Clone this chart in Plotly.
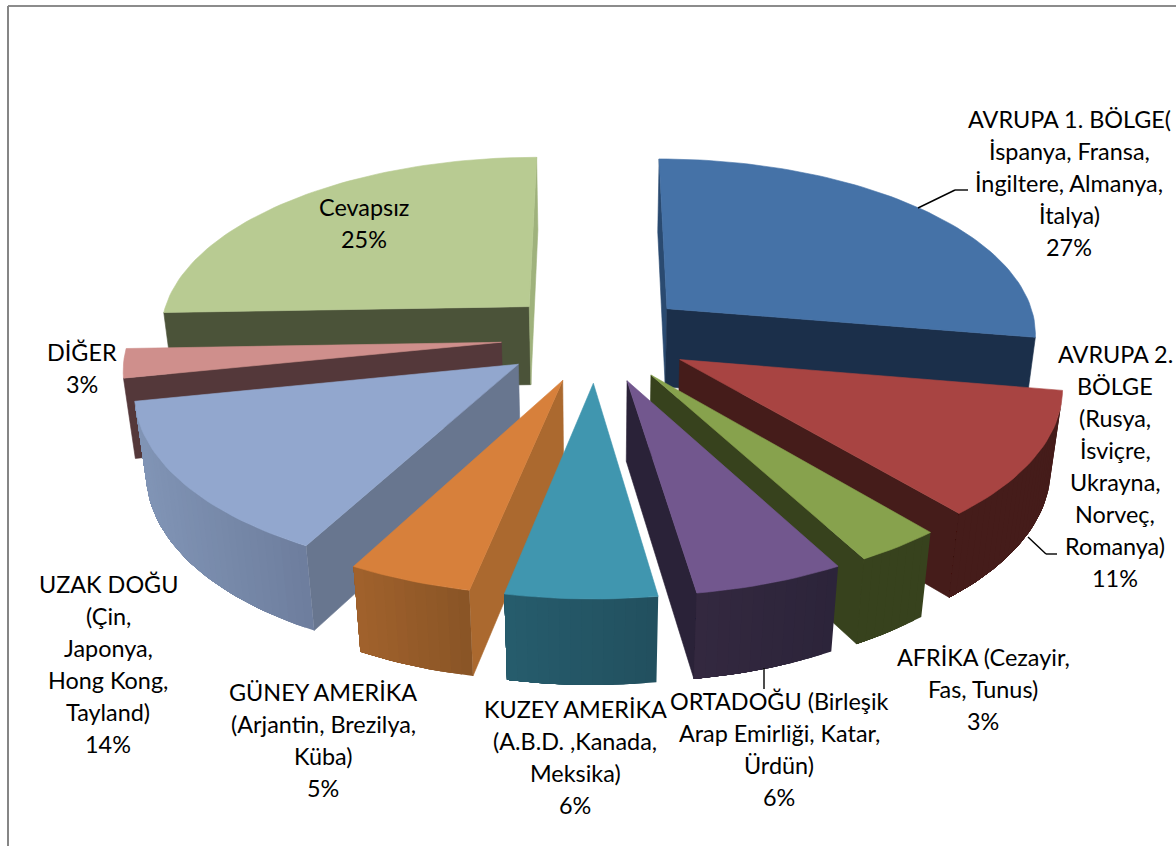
import math
import plotly.graph_objects as go

# ---- data ----
categories = ["AVRUPA 1. BÖLGE", "AVRUPA 2. BÖLGE", "AFRİKA", "ORTADOĞU", "KUZEY AMERİKA",
              "GÜNEY AMERİKA", "UZAK DOĞU", "DİĞER", "Cevapsız"]
values = [27.66, 11.2, 3.22, 5.56, 5.58, 4.61, 14.0, 2.61, 25.56]

# ---- styles: top, start wall, end wall, outer wall (left / right on screen) ----
top_colors = ["#4572A7", "#A84442", "#87A24D", "#72578E", "#4096AF", "#D7803B", "#92A7CE", "#CF8F8C", "#B8CB92"]
start_wall = ["#2A4A70", "#451C1A", "#37421D", "#2A2238", "#265C6C", "#AB692F", "#68768F", "#54383A", "#4B5339"]
end_wall   = ["#1B2F4A", "#451C1A", "#37421D", "#2A2238", "#265C6C", "#AB692F", "#68768F", "#54383A", "#9FB27C"]
outer_left = ["#1B2F4A", "#451C1A", "#37421D", "#33283F", "#265C6C", "#A0612C", "#8195B6", "#54383A", "#4B5339"]
outer_right= ["#1B2F4A", "#451C1A", "#37421D", "#2C243A", "#22505F", "#8A5526", "#6E7E9E", "#54383A", "#4B5339"]

label_lines = [
    ["AVRUPA 1. BÖLGE(", "İspanya, Fransa,", "İngiltere, Almanya,", "İtalya)", "27%"],
    ["AVRUPA 2.", "BÖLGE", "(Rusya,", "İsviçre,", "Ukrayna,", "Norveç,", "Romanya)", "11%"],
    ["AFRİKA (Cezayir,", "Fas, Tunus)", "3%"],
    ["ORTADOĞU (Birleşik", "Arap Emirliği, Katar,", "Ürdün)", "6%"],
    ["KUZEY AMERİKA", "(A.B.D. ,Kanada,", "Meksika)", "6%"],
    ["GÜNEY AMERİKA", "(Arjantin, Brezilya,", "Küba)", "5%"],
    ["UZAK DOĞU", "(Çin,", "Japonya,", "Hong Kong,", "Tayland)", "14%"],
    ["DİĞER", "3%"],
    ["Cevapsız", "25%"],
]
label_x = [1069, 1115, 983, 779, 575, 323, 108, 82, 364]
label_y = [119, 354, 657, 701, 709, 692, 584, 352, 207]
label_pitch = 32

# ---- projection parameters ----
CX, CY = 596, 337
R, RV, H = 372, 175.5, 81
K, M = 0.127, 0.025
EXPLODE = 0.255
FONT = "Lato"
FONT_SIZE = 23.4


def project(x, y, z):
    s = 1 / (1 + K * y - M * z)
    return CX + R * x * s, CY - (RV * y + H * z) * s


def hex_mix(a, b, t):
    ca = [int(a[i:i + 2], 16) for i in (1, 3, 5)]
    cb = [int(b[i:i + 2], 16) for i in (1, 3, 5)]
    return "#%02x%02x%02x" % tuple(round(p + (q - p) * t) for p, q in zip(ca, cb))


def area(poly):
    return sum(poly[i][0] * poly[(i + 1) % len(poly)][1] - poly[(i + 1) % len(poly)][0] * poly[i][1]
               for i in range(len(poly))) / 2


fig = go.Figure()


def add_poly(poly, color, width=0.6):
    fig.add_trace(go.Scatter(
        x=[p[0] for p in poly] + [poly[0][0]], y=[p[1] for p in poly] + [poly[0][1]],
        mode="lines", fill="toself", fillcolor=color,
        line=dict(color=color, width=width), hoverinfo="skip", showlegend=False))


total = sum(values)
wedges = []
cum = 0
for i, v in enumerate(values):
    a0 = 2 * math.pi * cum / total
    a1 = 2 * math.pi * (cum + v) / total
    wedges.append((i, a0, a1))
    cum += v
wedges.sort(key=lambda w: -math.cos((w[1] + w[2]) / 2))

for i, a0, a1 in wedges:
    mid = (a0 + a1) / 2
    ox, oy = EXPLODE * math.sin(mid), EXPLODE * math.cos(mid)
    n = max(6, int((a1 - a0) * 40))
    angs = [a0 + (a1 - a0) * j / n for j in range(n + 1)]
    rim = [(ox + math.sin(a), oy + math.cos(a)) for a in angs]
    apex = (ox, oy)

    def t(p): return project(p[0], p[1], 0)
    def b(p): return project(p[0], p[1], -1)

    # radial walls (wound so that visible faces have one sign)
    wall_s = [t(apex), t(rim[0]), b(rim[0]), b(apex)]
    wall_e = [t(rim[-1]), t(apex), b(apex), b(rim[-1])]
    if area(wall_s) < 0:
        add_poly(wall_s, start_wall[i])
    if area(wall_e) < 0:
        add_poly(wall_e, end_wall[i])
    # outer wall: visible rim runs, painted as overlapping bands so no seams show
    vis = [j for j in range(n) if area([t(rim[j]), t(rim[j + 1]), b(rim[j + 1]), b(rim[j])]) < 0]
    if vis:
        xs = [t(rim[j])[0] for j in vis]
        lo, hi = min(xs), max(xs)
        for j in vis:
            run = rim[j:vis[-1] + 2]
            band = [t(p) for p in run] + [b(p) for p in reversed(run)]
            add_poly(band, hex_mix(outer_left[i], outer_right[i], (t(rim[j])[0] - lo) / max(hi - lo, 1)), width=0)
    add_poly([t(apex)] + [t(p) for p in rim], top_colors[i])

# labels
annotations = []
for lines, lx, ly in zip(label_lines, label_x, label_y):
    for k, line in enumerate(lines):
        annotations.append(dict(x=lx, y=ly + k * label_pitch, xref="x", yref="y", text=line, showarrow=False,
                                xanchor="center", yanchor="middle",
                                font=dict(family=FONT, size=FONT_SIZE, color="#000000")))

leaders = [[(918, 208), (955, 190), (968, 190)],
           [(1028, 537), (1046, 554), (1057, 554)],
           [(764, 668), (764, 689)]]
shapes = []
for path in leaders:
    for p, q in zip(path, path[1:]):
        shapes.append(dict(type="line", xref="x", yref="y", x0=p[0], y0=p[1], x1=q[0], y1=q[1],
                           line=dict(color="#000000", width=1.4)))
# chart frame
shapes.append(dict(type="line", xref="x", yref="y", x0=8, y0=6, x1=1176, y1=6, line=dict(color="#8C8C8C", width=2)))
shapes.append(dict(type="line", xref="x", yref="y", x0=8, y0=6, x1=8, y1=846, line=dict(color="#868686", width=2)))

fig.update_layout(
    width=1176, height=846, margin=dict(l=0, r=0, t=0, b=0), paper_bgcolor="white", plot_bgcolor="white",
    showlegend=False, annotations=annotations, shapes=shapes,
    xaxis=dict(range=[0, 1176], visible=False, fixedrange=True),
    yaxis=dict(range=[846, 0], visible=False, fixedrange=True),
)
fig.write_html("out.html", config=dict(displayModeBar=False), post_script="document.body.style.margin='0';")
